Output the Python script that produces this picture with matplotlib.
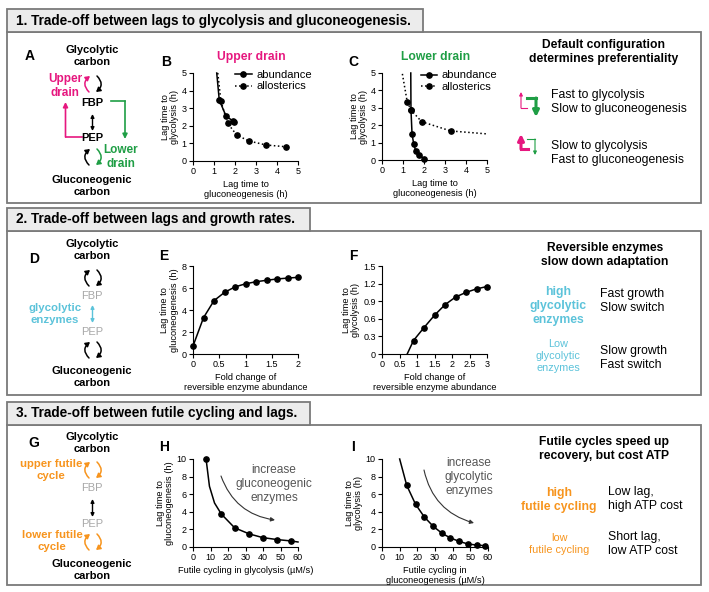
import matplotlib
matplotlib.use("Agg")
import matplotlib.pyplot as plt
from matplotlib.patches import Rectangle, FancyArrowPatch

plt.rcParams['font.family'] = ['Liberation Sans', 'DejaVu Sans']

W, H = 709, 592
MAGENTA = '#e6177f'
GREEN = '#1f9e45'
CYAN = '#5cc3da'
ORANGE = '#f7941d'
LIGHT = '#a8a8a8'

# ---- data ----
# B: upper drain
b_abund_x = [1.13, 1.25, 1.57, 1.89, 1.93]
b_abund_y = [5.0, 3.47, 2.56, 2.28, 2.20]
b_allo_x = [1.18, 1.33, 1.65, 2.08, 2.65, 3.48, 4.41]
b_allo_y = [5.0, 3.39, 2.14, 1.48, 1.14, 0.91, 0.81]
# C: lower drain
c_abund_x = [1.37, 1.38, 1.43, 1.51, 1.60, 1.78, 2.02]
c_abund_y = [5.0, 2.87, 1.50, 0.92, 0.54, 0.29, 0.06]
c_allo_x = [0.97, 1.20, 1.38, 1.89, 3.27, 5.0]
c_allo_y = [4.95, 3.35, 2.87, 2.20, 1.67, 1.50]
# E: lag to gluconeogenesis vs fold change
e_x = [0, 0.2, 0.4, 0.6, 0.8, 1.0, 1.2, 1.4, 1.6, 1.8, 2.0]
e_y = [0.72, 3.3, 4.85, 5.6, 6.1, 6.38, 6.57, 6.7, 6.82, 6.9, 6.97]
# F: lag to glycolysis vs fold change
f_x = [0.72, 0.9, 1.2, 1.5, 1.8, 2.1, 2.4, 2.7, 3.0]
f_y = [0.0, 0.23, 0.45, 0.66, 0.84, 0.97, 1.05, 1.11, 1.15]
# H: lag vs futile cycling in glycolysis
h_x = [7.5, 9.4, 12.3, 16.2, 23.8, 32.1, 39.8, 48.2, 55.9, 60]
h_y = [9.95, 6.9, 5.0, 3.74, 2.18, 1.49, 1.07, 0.84, 0.69, 0.57]
h_marks = [0, 3, 4, 5, 6, 7, 8]
# I: lag vs futile cycling in gluconeogenesis
i_x = [10, 14, 19, 24, 29, 34, 38.5, 43.5, 48.5, 53.5, 58.5]
i_y = [10, 7.0, 4.85, 3.4, 2.35, 1.55, 1.05, 0.65, 0.35, 0.22, 0.15]

fig = plt.figure(figsize=(7.09, 5.92), dpi=100)
ov = fig.add_axes([0, 0, 1, 1])
ov.set_xlim(0, W)
ov.set_ylim(H, 0)
ov.axis('off')


def txt(x, y, s, size=8, ha='center', **kw):
    ov.text(x, y, s, fontsize=size, ha=ha, va='center', **kw)


def arrow(p0, p1, color='black', lw=1.0, rad=0.0, style='-|>', ms=6, **kw):
    ov.add_patch(FancyArrowPatch(p0, p1, arrowstyle=style, mutation_scale=ms,
                                 connectionstyle='arc3,rad=%g' % rad,
                                 color=color, lw=lw, shrinkA=0, shrinkB=0, **kw))


def cycle(cx, cy, cl, cr):
    head = '-|>,head_length=0.5,head_width=0.3'
    arrow((cx - 4, cy + 8), (cx - 3, cy - 8), color=cl, lw=1.1, rad=-0.55,
          style=head, ms=5)
    arrow((cx + 4, cy - 8), (cx + 3, cy + 8), color=cr, lw=1.1, rad=-0.55,
          style=head, ms=5)


def section(top, tab_right, tab_top, bottom, title):
    ov.add_patch(Rectangle((7, top), 694, bottom - top, fill=False,
                           ec='#7a7a7a', lw=1.3))
    ov.add_patch(Rectangle((7, tab_top), tab_right - 7, top - tab_top,
                           fc='#ececec', ec='#7a7a7a', lw=1.3))
    txt(16, (top + tab_top) / 2, title, size=9.8, ha='left', weight='bold')


def panel(l, t, r, b):
    ax = fig.add_axes([l / W, 1 - b / H, (r - l) / W, (b - t) / H])
    ax.patch.set_alpha(0)
    for s in ['top', 'right']:
        ax.spines[s].set_visible(False)
    for s in ['left', 'bottom']:
        ax.spines[s].set_linewidth(0.8)
    ax.tick_params(direction='out', length=3, width=0.8, labelsize=6.5, pad=1.5)
    return ax


def fmt(v):
    return '%g' % v


def finish(ax, xlim, ylim, xt, yt, xlabel, ylabel):
    ax.set_xlim(xlim)
    ax.set_ylim(ylim)
    ax.set_xticks(xt)
    ax.set_xticklabels([fmt(v) for v in xt])
    ax.set_yticks(yt)
    ax.set_yticklabels([fmt(v) for v in yt])
    ax.set_xlabel(xlabel, fontsize=6.7, labelpad=3, linespacing=1.05)
    ax.set_ylabel(ylabel, fontsize=6.7, labelpad=2, linespacing=1.05)


section(32, 423, 9, 203, '1. Trade-off between lags to glycolysis and gluconeogenesis.')
section(231, 310, 208, 395, '2. Trade-off between lags and growth rates.')
section(425, 310, 402, 585, '3. Trade-off between futile cycling and lags.')

# ---- panel A diagram ----
txt(30, 56, 'A', size=10, weight='bold')
txt(92, 56, 'Glycolytic\ncarbon', weight='bold')
txt(65, 86, 'Upper\ndrain', size=8.5, weight='bold', color=MAGENTA)
cycle(93, 84, MAGENTA, 'black')
txt(92, 103, 'FBP', weight='bold')
arrow((92.5, 114), (92.5, 131), style='<|-|>', ms=5)
txt(92, 138, 'PEP', weight='bold')
ov.plot([82, 65.5], [137, 137], color=MAGENTA, lw=1.2)
arrow((65.5, 137), (65.5, 102), color=MAGENTA, lw=1.2, ms=7)
ov.plot([111, 125], [101, 101], color=GREEN, lw=1.2)
arrow((125, 101), (125, 139), color=GREEN, lw=1.2, ms=7)
cycle(93, 157, 'black', GREEN)
txt(121, 157, 'Lower\ndrain', size=8.5, weight='bold', color=GREEN)
txt(92, 186, 'Gluconeogenic\ncarbon', weight='bold')

# ---- panel B ----
txt(166, 62, 'B', size=10, weight='bold')
txt(251, 57, 'Upper drain', size=8.7, weight='bold', color=MAGENTA)
ax = panel(193, 73, 298, 161)
ax.plot(b_abund_x, b_abund_y, '-', color='black', lw=1.1, marker='o', ms=3.8,
        markevery=[1, 2, 3, 4], label='abundance', clip_on=False)
ax.plot(b_allo_x, b_allo_y, ':', color='black', lw=1.1, marker='o', ms=3.8,
        markevery=list(range(1, 7)), label='allosterics', clip_on=False)
finish(ax, (0, 5), (0, 5), [0, 1, 2, 3, 4, 5], [0, 1, 2, 3, 4, 5],
       'Lag time to\ngluconeogenesis (h)', 'Lag time to\nglycolysis (h)')
ax.legend(loc='upper right', bbox_to_anchor=(1.13, 1.03), frameon=False,
          fontsize=8, handlelength=1.5, handletextpad=0.4, labelspacing=0.1,
          borderaxespad=0, borderpad=0)

# ---- panel C ----
txt(353, 62, 'C', size=10, weight='bold')
txt(436, 57, 'Lower drain', size=8.7, weight='bold', color=GREEN)
ax = panel(382, 73, 487, 160)
ax.plot(c_abund_x, c_abund_y, '-', color='black', lw=1.1, marker='o', ms=3.8,
        markevery=list(range(1, 7)), label='abundance', clip_on=False)
ax.plot(c_allo_x, c_allo_y, ':', color='black', lw=1.1, marker='o', ms=3.8,
        markevery=[1, 2, 3, 4], label='allosterics', clip_on=False)
finish(ax, (0, 5), (0, 5), [0, 1, 2, 3, 4, 5], [0, 1, 2, 3, 4, 5],
       'Lag time to\ngluconeogenesis (h)', 'Lag time to\nglycolysis (h)')
ax.legend(loc='upper right', bbox_to_anchor=(1.1, 1.03), frameon=False,
          fontsize=8, handlelength=1.5, handletextpad=0.4, labelspacing=0.1,
          borderaxespad=0, borderpad=0)

# ---- section 1 right ----
txt(604, 52, 'Default configuration\ndetermines preferentiality', size=8.7, weight='bold')
ov.plot([521, 527], [108, 108], color=MAGENTA, lw=0.8)
arrow((521, 108), (521, 92), color=MAGENTA, lw=0.8, ms=5)
ov.plot([527, 536], [98, 98], color=GREEN, lw=2.2)
arrow((536, 98), (536, 117), color=GREEN, lw=2.2, ms=9)
txt(551, 102, 'Fast to glycolysis\nSlow to gluconeogenesis', size=8.8, ha='left')
ov.plot([521, 528], [149, 149], color=MAGENTA, lw=2.2)
arrow((521, 149), (521, 134), color=MAGENTA, lw=2.2, ms=9)
ov.plot([527, 535], [139, 139], color=GREEN, lw=0.8)
arrow((535, 139), (535, 155), color=GREEN, lw=0.8, ms=5)
txt(551, 153, 'Slow to glycolysis\nFast to gluconeogenesis', size=8.8, ha='left')

# ---- panel D diagram ----
txt(34, 259, 'D', size=10, weight='bold')
txt(92, 250, 'Glycolytic\ncarbon', weight='bold')
cycle(93, 278, 'black', 'black')
txt(92, 296, 'FBP', color=LIGHT)
arrow((92.5, 305), (92.5, 323), color=CYAN, style='<|-|>', ms=5)
txt(55, 314, 'glycolytic\nenzymes', size=8.2, weight='bold', color=CYAN)
txt(92, 332, 'PEP', color=LIGHT)
cycle(93, 350, 'black', 'black')
txt(92, 377, 'Gluconeogenic\ncarbon', weight='bold')

# ---- panel E ----
txt(164, 256, 'E', size=10, weight='bold')
ax = panel(193, 266, 298, 354)
ax.plot(e_x, e_y, '-', color='black', lw=1.1, marker='o', ms=3.8, clip_on=False)
finish(ax, (0, 2), (0, 8), [0, 0.5, 1, 1.5, 2], [0, 2, 4, 6, 8],
       'Fold change of\nreversible enzyme abundance',
       'Lag time to\ngluconeogenesis (h)')

# ---- panel F ----
txt(353, 256, 'F', size=10, weight='bold')
ax = panel(382, 266, 487, 354)
ax.plot(f_x, f_y, '-', color='black', lw=1.1, marker='o', ms=3.8,
        markevery=list(range(1, 9)), clip_on=False)
finish(ax, (0, 3), (0, 1.5), [0, 0.5, 1, 1.5, 2, 2.5, 3],
       [0, 0.3, 0.6, 0.9, 1.2, 1.5],
       'Fold change of\nreversible enzyme abundance',
       'Lag time to\nglycolysis (h)')

# ---- section 2 right ----
txt(605, 255, 'Reversible enzymes\nslow down adaptation', size=8.7, weight='bold')
txt(558, 306, 'high\nglycolytic\nenzymes', size=8.8, weight='bold', color=CYAN)
txt(600, 301, 'Fast growth\nSlow switch', size=8.8, ha='left')
txt(558, 356, 'Low\nglycolytic\nenzymes', size=7.8, color=CYAN)
txt(600, 358, 'Slow growth\nFast switch', size=8.8, ha='left')

# ---- panel G diagram ----
txt(34, 443, 'G', size=10, weight='bold')
txt(92, 443, 'Glycolytic\ncarbon', weight='bold')
txt(51, 470, 'upper futile\ncycle', size=8.2, weight='bold', color=ORANGE)
cycle(93, 470, ORANGE, ORANGE)
txt(92, 488, 'FBP', color=LIGHT)
arrow((92.5, 499), (92.5, 517), style='<|-|>', ms=5)
txt(92, 524, 'PEP', color=LIGHT)
txt(52, 541, 'lower futile\ncycle', size=8.2, weight='bold', color=ORANGE)
cycle(93, 542, ORANGE, ORANGE)
txt(92, 570, 'Gluconeogenic\ncarbon', weight='bold')

# ---- panel H ----
txt(164, 447, 'H', size=10, weight='bold')
ax = panel(193, 459, 298, 547)
ax.plot(h_x, h_y, '-', color='black', lw=1.1, marker='o', ms=3.8,
        markevery=h_marks, clip_on=False)
finish(ax, (0, 60), (0, 10), [0, 10, 20, 30, 40, 50, 60], [0, 2, 4, 6, 8, 10],
       'Futile cycling in glycolysis (\u00b5M/s)',
       'Lag time to\ngluconeogenesis (h)')
txt(274, 484, 'increase\ngluconeogenic\nenzymes', size=8.6, color='#555555')
arrow((221, 476), (275, 520), color='#333333', lw=0.8, rad=0.3, ms=6)

# ---- panel I ----
txt(353, 447, 'I', size=10, weight='bold')
ax = panel(382, 459, 488, 547)
ax.plot(i_x, i_y, '-', color='black', lw=1.1, marker='o', ms=3.8,
        markevery=list(range(1, 11)), clip_on=False)
finish(ax, (0, 60), (0, 10), [0, 10, 20, 30, 40, 50, 60], [0, 2, 4, 6, 8, 10],
       'Futile cycling in\ngluconeogenesis (\u00b5M/s)',
       'Lag time to\nglycolysis (h)')
txt(469, 477, 'increase\nglycolytic\nenzymes', size=8.6, color='#555555')
arrow((424, 470), (474, 523), color='#333333', lw=0.8, rad=0.3, ms=6)

# ---- section 3 right ----
txt(604, 449, 'Futile cycles speed up\nrecovery, but cost ATP', size=8.7, weight='bold')
txt(559, 500, 'high\nfutile cycling', size=8.8, weight='bold', color=ORANGE)
txt(608, 499, 'Low lag,\nhigh ATP cost', size=8.8, ha='left')
txt(559, 544, 'low\nfutile cycling', size=7.8, color=ORANGE)
txt(608, 544, 'Short lag,\nlow ATP cost', size=8.8, ha='left')

fig.savefig('out.png', dpi=100)
